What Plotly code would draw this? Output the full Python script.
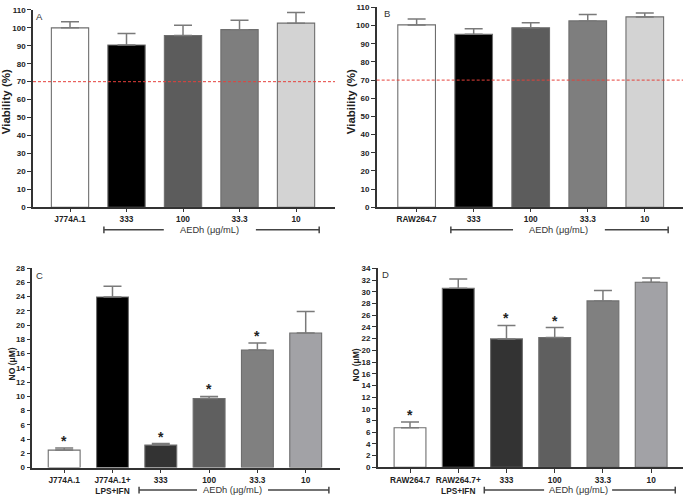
import plotly.graph_objects as go

W, H = 685, 501

# ---------------- data ----------------
cat_A = ["J774A.1", "333", "100", "33.3", "10"]
val_A = [100.0, 90.4, 95.7, 99.0, 102.6]
err_A = [3.4, 6.4, 5.7, 5.2, 6.0]

cat_B = ["RAW264.7", "333", "100", "33.3", "10"]
val_B = [100.4, 95.2, 98.8, 102.6, 104.8]
err_B = [3.3, 3.1, 2.8, 3.5, 2.2]

cat_C = ["J774A.1", "J774A.1+<br>LPS+IFN", "333", "100", "33.3", "10"]
val_C = [2.45, 23.95, 3.15, 9.7, 16.5, 18.9]
err_C = [0.3, 1.5, 0.22, 0.28, 1.0, 3.0]
star_C = [0, 2, 3, 4]

cat_D = ["RAW264.7", "RAW264.7+<br>LPS+IFN", "333", "100", "33.3", "10"]
val_D = [6.75, 30.6, 21.95, 22.2, 28.45, 31.65]
err_D = [1.0, 1.6, 2.3, 1.7, 1.8, 0.7]
star_D = [0, 2, 3]

cols_AB = ["#ffffff", "#000000", "#5c5c5c", "#7e7e7e", "#d3d3d3"]
cols_CD = ["#ffffff", "#000000", "#333333", "#5f5f5f", "#808080", "#a2a2a6"]

FONT = "Arial, Liberation Sans, sans-serif"


def px_x(p):
    return p / W


def px_y(p):
    return 1 - p / H


panels = [
    dict(n="", cats=cat_A, vals=val_A, errs=err_A, cols=cols_AB, stars=[],
         xd=[33, 335], yd=[6, 207], xr=[-0.655, 4.69], yr=[0, 110], dt=10,
         letter="A", lpos=(39, 13), title="Viability (%)", tsize=11.5, tpos=(6, 100),
         ref=70, br=(0.6, 4.41), gap=(1.66, 3.29), bry=230, xtl=3),
    dict(n="2", cats=cat_B, vals=val_B, errs=err_B, cols=cols_AB, stars=[],
         xd=[376.7, 683], yd=[3.5, 207], xr=[-0.70, 4.67], yr=[0, 110], dt=10,
         letter="B", lpos=(386.5, 10), title="Viability (%)", tsize=11.5, tpos=(351, 100),
         ref=70, br=(0.6, 4.41), gap=(1.69, 3.30), bry=230, xtl=3),
    dict(n="3", cats=cat_C, vals=val_C, errs=err_C, cols=cols_CD, stars=star_C,
         xd=[32.3, 340], yd=[269, 472], xr=[-0.66, 5.71], yr=[0, 28], dt=2,
         letter="C", lpos=(39, 276), title="NO (μM)", tsize=8.5, tpos=(12, 367),
         ref=None, br=(1.55, 5.48), gap=(2.75, 4.22), bry=495, xtl=4),
    dict(n="4", cats=cat_D, vals=val_D, errs=err_D, cols=cols_CD, stars=star_D,
         xd=[377.7, 683], yd=[269.3, 471.7], xr=[-0.67, 5.66], yr=[0, 34], dt=2,
         letter="D", lpos=(385.7, 275), title="NO (μM)", tsize=8.5, tpos=(356, 368),
         ref=None, br=(1.54, 5.50), gap=(2.78, 4.19), bry=495, xtl=4),
]

fig = go.Figure()
layout = dict(width=W, height=H, margin=dict(l=0, r=0, t=0, b=0),
              plot_bgcolor="white", paper_bgcolor="white", showlegend=False,
              bargap=0.34, font=dict(family=FONT, color="#222222"))
shapes = []
annotations = []
AX = "#333333"
BR = "#444444"

for p in panels:
    n = p["n"]
    xa, ya = "x" + n, "y" + n
    fig.add_trace(go.Bar(
        x=p["cats"], y=p["vals"], xaxis=xa, yaxis=ya,
        marker=dict(color=p["cols"], line=dict(color="#6e6e6e", width=1.1)),
        error_y=dict(type="data", array=p["errs"], arrayminus=[0] * len(p["errs"]),
                     symmetric=False, color="#7a7a7a", thickness=1.5, width=9),
        width=0.66,
    ))
    layout["xaxis" + n] = dict(
        domain=[px_x(p["xd"][0]), px_x(p["xd"][1])], anchor=ya, type="category",
        range=p["xr"], showline=True, linecolor=AX, linewidth=1.5,
        ticks="outside", ticklen=p["xtl"], tickwidth=1.2, tickcolor=AX,
        tickfont=dict(size=8.3, family=FONT, weight="bold", color="#222"),
        showgrid=False, zeroline=False, fixedrange=True)
    layout["yaxis" + n] = dict(
        domain=[px_y(p["yd"][1]), px_y(p["yd"][0])], anchor=xa,
        range=p["yr"], tick0=0, dtick=p["dt"], showline=True, linecolor=AX, linewidth=1.5,
        ticks="outside", ticklen=4, tickwidth=1.2, tickcolor=AX,
        tickfont=dict(size=8, family=FONT, weight="bold", color="#222"),
        showgrid=False, zeroline=False, fixedrange=True)

    # reference line
    if p["ref"] is not None:
        shapes.append(dict(type="line", xref=xa + " domain", yref=ya,
                           x0=0, x1=1, y0=p["ref"], y1=p["ref"],
                           line=dict(color="#e5413a", width=1, dash="3px,2px")))
    # stars
    for i in p["stars"]:
        annotations.append(dict(x=i, y=p["vals"][i] + p["errs"][i], xref=xa, yref=ya,
                                text="*", showarrow=False, yanchor="bottom", yshift=-3,
                                font=dict(size=14, family=FONT, weight="bold", color="#222")))
    # panel letter
    annotations.append(dict(x=px_x(p["lpos"][0]), y=px_y(p["lpos"][1]), xref="paper",
                            yref="paper", text=p["letter"], showarrow=False,
                            xanchor="center", yanchor="middle",
                            font=dict(size=9.5, family=FONT, color="#333")))
    # y title
    annotations.append(dict(x=px_x(p["tpos"][0]), y=px_y(p["tpos"][1]), xref="paper",
                            yref="paper", text=p["title"], showarrow=False, textangle=-90,
                            xanchor="center", yanchor="middle",
                            font=dict(size=p["tsize"], family=FONT, weight="bold", color="#222")))
    # bracket
    yb = px_y(p["bry"])
    b0, b1 = p["br"]
    g0, g1 = p["gap"]
    for s0, s1 in [(b0, g0), (g1, b1)]:
        shapes.append(dict(type="line", xref=xa, yref="paper", x0=s0, x1=s1, y0=yb, y1=yb,
                           line=dict(color=BR, width=1.5)))
    for bx in (b0, b1):
        shapes.append(dict(type="line", xref=xa, yref="paper", x0=bx, x1=bx,
                           y0=yb - 3.5 / H, y1=yb + 3.5 / H, line=dict(color=BR, width=1.5)))
    annotations.append(dict(x=(g0 + g1) / 2, y=yb, xref=xa, yref="paper",
                            text="AEDh (μg/mL)", showarrow=False, xanchor="center",
                            yanchor="middle", borderpad=0,
                            font=dict(size=9.3, family=FONT, color="#333")))

layout["shapes"] = shapes
layout["annotations"] = annotations
fig.update_layout(**layout)
fig.write_html("out.html")
